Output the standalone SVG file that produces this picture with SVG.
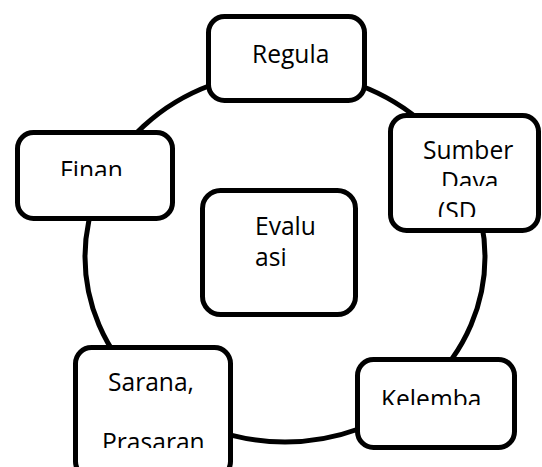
<svg xmlns="http://www.w3.org/2000/svg" width="542" height="467" viewBox="0 0 542 467">
<style>
.box{fill:#fff;stroke:#000;stroke-width:5}
.con{fill:none;stroke:#000;stroke-width:5}
text{font-family:"Open Sans","Noto Sans",sans-serif;font-size:24.6px;fill:#000}
</style>
<defs>
<clipPath id="cDaya"><rect x="380" y="160" width="162" height="26"/></clipPath>
<clipPath id="cSD"><rect x="380" y="192" width="162" height="25"/></clipPath>
<clipPath id="cFinan"><rect x="20" y="140" width="150" height="36"/></clipPath>
<clipPath id="cPras"><rect x="80" y="410" width="150" height="38"/></clipPath>
<clipPath id="cKel"><rect x="360" y="370" width="150" height="35"/></clipPath>
</defs>
<g id="connectors">
<ellipse class="con" cx="285" cy="257" rx="200" ry="185"/>
</g>
<g id="regula">
<rect class="box" x="208.5" y="16.5" width="156" height="84" rx="16"/>
<text x="252" y="63">Regula</text>
</g>
<g id="sumber">
<rect class="box" x="390.5" y="115.5" width="148" height="115" rx="16"/>
<text x="423" y="159">Sumber</text>
<text x="441" y="190" clip-path="url(#cDaya)">Daya</text>
<text x="438" y="220" clip-path="url(#cSD)">(SD</text>
</g>
<g id="finan">
<rect class="box" x="17.5" y="132.5" width="155" height="86" rx="16"/>
<text x="60" y="178.5" clip-path="url(#cFinan)">Finan</text>
</g>
<g id="evaluasi">
<rect class="box" x="202.5" y="190.5" width="153" height="124" rx="18"/>
<text x="255" y="235">Evalu</text>
<text x="255" y="266">asi</text>
</g>
<g id="sarana">
<rect class="box" x="75.5" y="347.5" width="155" height="130" rx="16"/>
<text x="108" y="391">Sarana,</text>
<text x="102" y="450.5" clip-path="url(#cPras)">Prasaran</text>
</g>
<g id="kelembagaan">
<rect class="box" x="357.5" y="359.5" width="157" height="88" rx="16"/>
<text x="381" y="407.5" clip-path="url(#cKel)">Kelemba</text>
</g>
</svg>
